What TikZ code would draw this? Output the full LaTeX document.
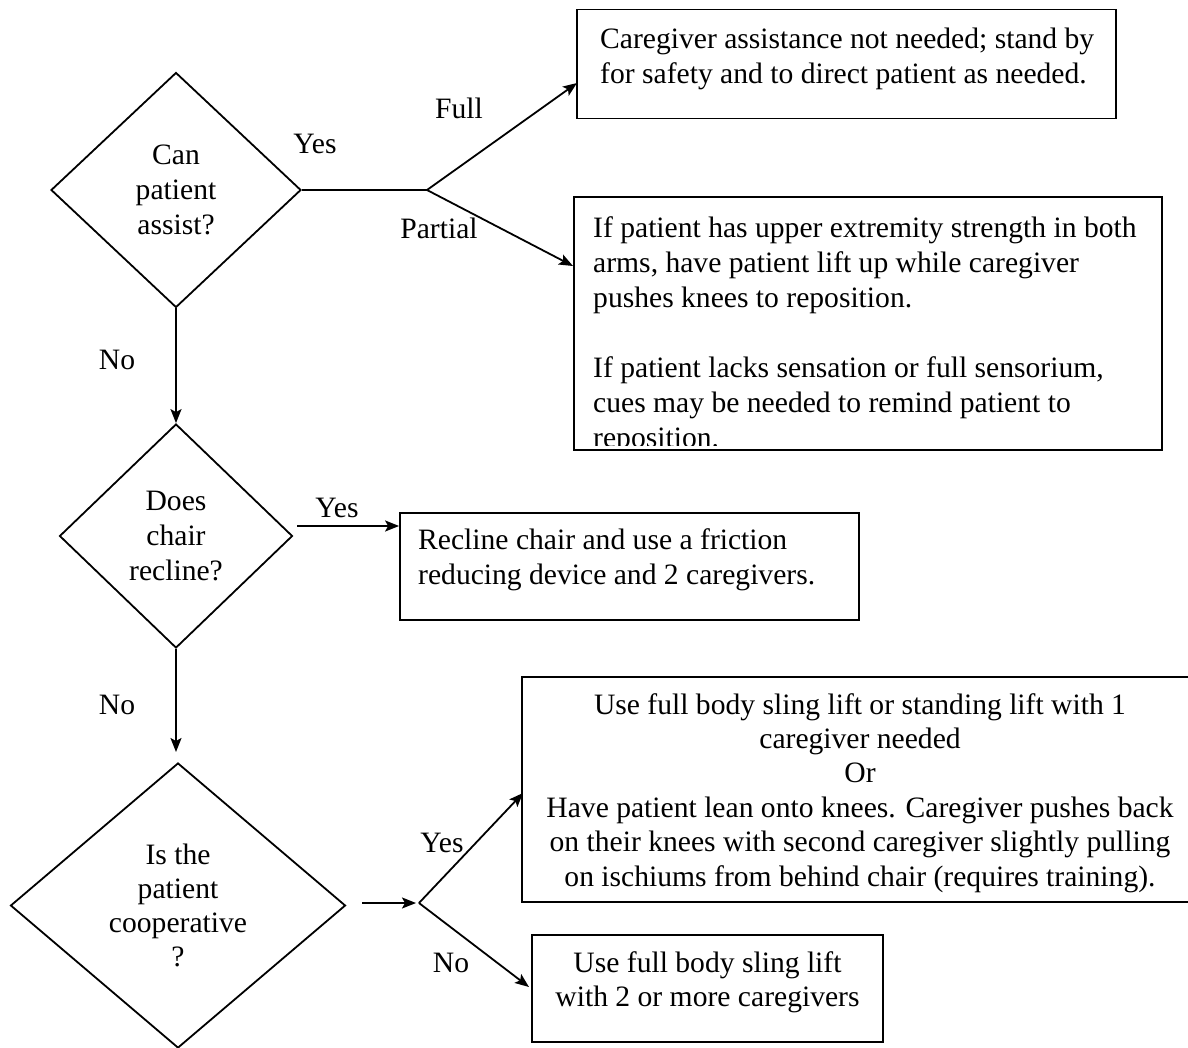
\documentclass[tikz,border=0pt]{standalone}
\usepackage{fontspec}
\setmainfont{Liberation Serif}
\usetikzlibrary{arrows.meta,shapes.geometric}
\begin{document}
\begin{tikzpicture}[x=1pt,y=-1pt,
  every node/.style={font=\fontsize{29.6}{35}\selectfont, inner sep=0pt},
  dia/.style={diamond, draw, line width=1.8pt, align=center, inner sep=0pt},
  box/.style={draw, line width=1.8pt, rectangle, inner sep=0pt},
  conn/.style={line width=1.8pt},
  arr/.style={line width=1.8pt, -{Stealth[length=14pt,width=11pt,inset=3pt]}},
  ln/.style={anchor=base west},
  lc/.style={anchor=base}]
\useasboundingbox (0,0) rectangle (1188,1047);

% decisions
\node[dia, minimum width=250pt, minimum height=235pt] (d1) at (176,190) {Can\\patient\\assist?};
\node[dia, minimum width=233pt, minimum height=224pt] (d2) at (176,536) {Does\\chair\\recline?};
\node[dia, minimum width=335pt, minimum height=285pt,
      font=\fontsize{29.6}{34}\selectfont] (d3) at (178,905.5) {Is the\\patient\\cooperative\\?};

% boxes
\node[box, minimum width=539pt, minimum height=109pt] (b1) at (846.5,64) {};
\node[box, minimum width=588pt, minimum height=253pt] (b2) at (868,323.5) {};
\node[box, minimum width=459pt, minimum height=107pt] (b3) at (629.5,566.5) {};
\node[box, minimum width=676pt, minimum height=225pt] (b4) at (860,789.5) {};
\node[box, minimum width=351pt, minimum height=107pt] (b5) at (707.5,988.5) {};

% box texts
\node[ln] (b1t1) at (600,48) {Caregiver assistance not needed; stand by};
\node[ln] (b1t2) at (600,83) {for safety and to direct patient as needed.};

\begin{scope}
\clip (574,197) rectangle (1162,445);
\node[ln] (b2t1) at (593,237) {If patient has upper extremity strength in both};
\node[ln] (b2t2) at (593,272) {arms, have patient lift up while caregiver};
\node[ln] (b2t3) at (593,307) {pushes knees to reposition.};
\node[ln] (b2t4) at (593,377) {If patient lacks sensation or full sensorium,};
\node[ln] (b2t5) at (593,412) {cues may be needed to remind patient to};
\node[ln] (b2t6) at (593,447) {reposition.};
\end{scope}

\node[ln] (b3t1) at (418,549) {Recline chair and use a friction};
\node[ln] (b3t2) at (418,584) {reducing device and 2 caregivers.};

\node[lc] (b4t1) at (860,714) {Use full body sling lift or standing lift with 1};
\node[lc] (b4t2) at (860,748.4) {caregiver needed};
\node[lc] (b4t3) at (860,782.8) {Or};
\node[lc] (b4t4) at (860,817.2) {Have patient lean onto knees. Caregiver pushes back};
\node[lc] (b4t5) at (860,851.6) {on their knees with second caregiver slightly pulling};
\node[lc] (b4t6) at (860,886) {on ischiums from behind chair (requires training).};

\node[lc] (b5t1) at (707.5,972) {Use full body sling lift};
\node[lc] (b5t2) at (707.5,1006) {with 2 or more caregivers};

% connectors
\coordinate (br1) at (427,190);
\coordinate (tFull) at (577,83);
\coordinate (tPart) at (573,266);
\draw[conn] (d1.east) -- (br1);
\draw[arr] (br1) -- (tFull);
\draw[arr] (br1) -- (tPart);
\draw[arr] (d1.south) -- (d2.north);

\coordinate (s2) at (297,526);
\draw[arr] (s2) -- (b3.west |- s2);

\coordinate (t3) at (176,752);
\draw[arr] (d2.south) -- (t3);

\coordinate (s3) at (362,903);
\coordinate (br3) at (419,903);
\coordinate (tYes) at (523,793);
\coordinate (tNo) at (529,987);
\draw[arr, shorten >=3pt] (s3) -- (br3);
\draw[arr] (br3) -- (tYes);
\draw[arr] (br3) -- (tNo);

% labels
\node (lYes1) at (315,144) {Yes};
\node (lFull) at (459,108) {Full};
\node (lPart) at (439,228) {Partial};
\node (lNo1) at (117,360) {No};
\node (lYes2) at (337,508) {Yes};
\node (lNo2) at (117,705) {No};
\node (lYes3) at (442,843) {Yes};
\node (lNo3) at (451,963) {No};
\end{tikzpicture}
\end{document}
